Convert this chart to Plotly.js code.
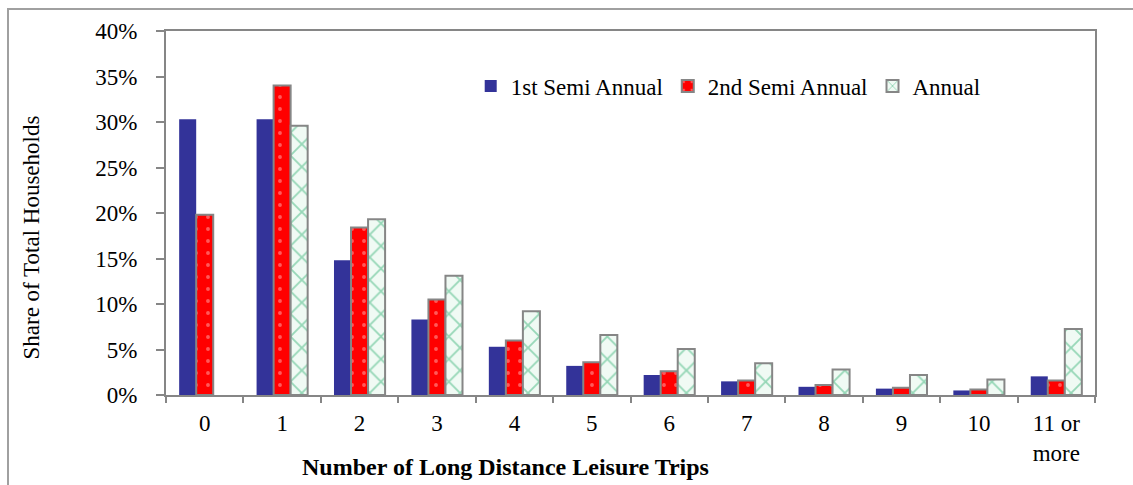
<!DOCTYPE html>
<html>
<head>
<meta charset="utf-8">
<script src="https://cdn.plot.ly/plotly-3.0.1.min.js"></script>
<style>
  html, body { margin: 0; padding: 0; background: #ffffff; }
  #wrap { position: relative; width: 1133px; height: 485px; overflow: hidden; }
  #chart { position: absolute; left: 0; top: 0; width: 1133px; height: 485px; }
  #frame { position: absolute; left: 7px; top: 8px; width: 1200px; height: 600px;
           border-left: 2px solid #a0a0a0; border-top: 2px solid #a0a0a0; pointer-events: none; }
</style>
</head>
<body>
<div id="wrap">
  <div id="chart"></div>
  <div id="frame"></div>
</div>
<script>
const categories = ['0', '1', '2', '3', '4', '5', '6', '7', '8', '9', '10', '11 or<br>more'];
const firstSemiAnnual  = [30.3, 30.3, 14.8, 8.3, 5.3, 3.2, 2.2, 1.5, 0.9, 0.7, 0.5, 2.05];
const secondSemiAnnual = [19.8, 34.0, 18.4, 10.5, 6.0, 3.6, 2.6, 1.6, 1.1, 0.8, 0.6, 1.6];
const annual           = [null, 29.6, 19.3, 13.1, 9.2, 6.6, 5.05, 3.5, 2.8, 2.2, 1.7, 7.25];
const seriesNames = ['1st Semi Annual', '2nd Semi Annual', 'Annual'];
const yTitle = 'Share of Total Households';
const xTitle = 'Number of Long Distance Leisure Trips';

const FONT = '"Liberation Serif", "Times New Roman", serif';
const GRAY = '#868686';

const traces = [
  {
    type: 'bar', name: seriesNames[0], x: categories, y: firstSemiAnnual,
    marker: { color: '#333399', line: { width: 0 } }
  },
  {
    type: 'bar', name: seriesNames[1], x: categories, y: secondSemiAnnual,
    marker: {
      color: '#ff0000',
      line: { color: GRAY, width: 2 },
      pattern: { shape: '.', bgcolor: '#ff0000', fgcolor: '#ffb3b3', size: 12, solidity: 0.08, fillmode: 'overlay' }
    }
  },
  {
    type: 'bar', name: seriesNames[2], x: categories, y: annual,
    marker: {
      color: '#f0faf4',
      line: { color: GRAY, width: 2 },
      pattern: { shape: 'x', bgcolor: '#f0faf4', fgcolor: '#3cb37a', size: 16, solidity: 0.22, fillmode: 'overlay' }
    }
  }
];

const layout = {
  width: 1133, height: 485,
  margin: { l: 166, r: 38, t: 31, b: 90 },
  paper_bgcolor: 'rgba(0,0,0,0)',
  plot_bgcolor: '#ffffff',
  font: { family: FONT, size: 23, color: '#000000' },
  barmode: 'group',
  bargap: 0.34,
  bargroupgap: 0,
  showlegend: true,
  legend: {
    orientation: 'h', x: 0.328, xanchor: 'left', y: 0.849, yanchor: 'middle',
    font: { family: FONT, size: 23, color: '#000' },
    bgcolor: 'rgba(0,0,0,0)', traceorder: 'normal'
  },
  xaxis: {
    type: 'category',
    showline: true, linecolor: GRAY, linewidth: 2, mirror: true,
    ticks: 'outside', tickson: 'boundaries', ticklen: 6, tickcolor: GRAY, tickwidth: 2,
    showgrid: false, zeroline: false,
    tickfont: { family: FONT, size: 23, color: '#000' },
    ticklabelstandoff: 6
  },
  yaxis: {
    range: [0, 40], dtick: 5, ticksuffix: '%',
    showline: true, linecolor: GRAY, linewidth: 2, mirror: true,
    ticks: 'outside', ticklen: 8, tickcolor: GRAY, tickwidth: 2,
    showgrid: false, zeroline: false,
    tickfont: { family: FONT, size: 23, color: '#000' },
    ticklabelstandoff: 14
  },
  annotations: [
    {
      text: yTitle, textangle: -90, xref: 'paper', yref: 'paper',
      x: (31 - 166) / 929, y: (395 - 237.5) / 364, xanchor: 'center', yanchor: 'middle',
      showarrow: false, font: { family: FONT, size: 23, color: '#000' }
    },
    {
      text: '<b>' + xTitle + '</b>', xref: 'paper', yref: 'paper',
      x: (505 - 166) / 929, y: (395 - 467) / 364, xanchor: 'center', yanchor: 'middle',
      showarrow: false, font: { family: FONT, size: 24, color: '#000' }
    }
  ]
};

Plotly.newPlot('chart', traces, layout, { displayModeBar: false, staticPlot: true });
</script>
</body>
</html>
